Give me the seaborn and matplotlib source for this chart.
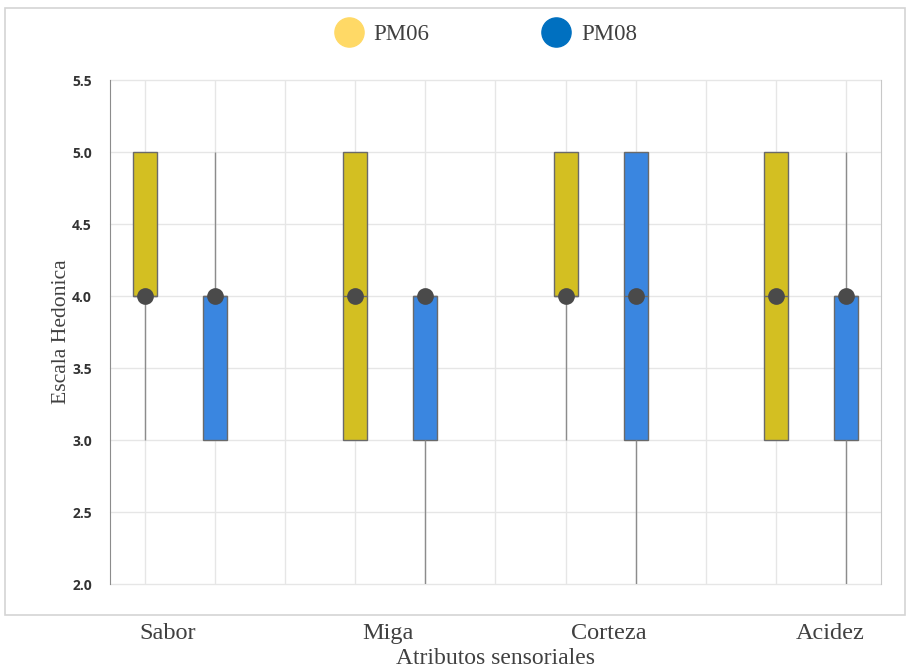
import numpy as np
import pandas as pd
import matplotlib.pyplot as plt
import seaborn as sns
from matplotlib.lines import Line2D
from matplotlib.patches import Rectangle

# 1. Datos: resumen de cinco números por atributo (mín, Q1, mediana, Q3, máx)
categories = ['Sabor', 'Miga', 'Corteza', 'Acidez']
series = ['PM06', 'PM08']

pm06_min = [3, 3, 3, 3]
pm06_q1 = [4, 3, 4, 3]
pm06_med = [4, 4, 4, 4]
pm06_q3 = [5, 5, 5, 5]
pm06_max = [5, 5, 5, 5]

pm08_min = [3, 2, 2, 2]
pm08_q1 = [3, 3, 3, 3]
pm08_med = [4, 4, 4, 4]
pm08_q3 = [4, 4, 5, 4]
pm08_max = [5, 4, 5, 5]

yticks = [2.0, 2.5, 3.0, 3.5, 4.0, 4.5, 5.0, 5.5]

box_colors = ['#D3BF22', '#3A86E0']
legend_colors = ['#FFD966', '#0070C0']

# 2. Tabla larga: cinco valores por caja reproducen exactamente los cuartiles
rows = []
stats = {
    'PM06': [pm06_min, pm06_q1, pm06_med, pm06_q3, pm06_max],
    'PM08': [pm08_min, pm08_q1, pm08_med, pm08_q3, pm08_max],
}
for name, arrs in stats.items():
    for i, cat in enumerate(categories):
        for a in arrs:
            rows.append({'Atributo': cat, 'Serie': name, 'Valor': a[i]})
df = pd.DataFrame(rows)

# 3. Gráfico
sns.set_style('white')
plt.rcParams['font.family'] = ['Liberation Serif', 'DejaVu Serif']

fig = plt.figure(figsize=(9.11, 6.71), dpi=100)
ax = fig.add_axes([110 / 911, 87 / 671, 771 / 911, 504 / 671])

sns.boxplot(data=df, x='Atributo', y='Valor', hue='Serie', order=categories,
            hue_order=series, palette=box_colors, whis=(0, 100), width=2 / 3,
            gap=0.66, dodge=True, linewidth=1, linecolor='#6a6a6a', fliersize=0,
            legend=False, ax=ax, saturation=1,
            whiskerprops=dict(color='#8c8c8c'), capprops=dict(linewidth=0),
            medianprops=dict(color='#6a6a6a'))

sns.pointplot(data=df, x='Atributo', y='Valor', hue='Serie', order=categories,
              hue_order=series, estimator='median', errorbar=None, dodge=1 / 3,
              linestyle='none', markers='o', palette=['#4a4a4a', '#4a4a4a'],
              markersize=10, legend=False, ax=ax, zorder=5)

ax.set_xlim(-1 / 3, 3 + 1 / 3)
ax.set_ylim(2.0, 5.5)

# rejilla vertical en cada caja y en los límites de categoría
minor_x = sorted([i + d for i in range(4) for d in (-1 / 6, 1 / 6)] + [0.5, 1.5, 2.5])
ax.set_xticks(minor_x, minor=True)
ax.set_xticks(np.linspace(-0.06, 3.09, 4), labels=categories)
ax.xaxis.grid(True, which='minor', color='#e6e6e6', lw=1)
ax.xaxis.grid(False, which='major')
ax.tick_params(axis='x', which='both', length=0, pad=28, labelsize=17.5, labelcolor='#404040')

ax.set_yticks(yticks, labels=[f'{v:.1f}' for v in yticks],
              fontfamily='Open Sans', fontweight='bold', fontsize=10)
ax.yaxis.grid(True, color='#e6e6e6', lw=1)
for gl in ax.get_ygridlines():
    gl.set_clip_on(False)
ax.tick_params(axis='y', length=5, width=1, color='#8c8c8c', labelcolor='#333333', pad=8)
ax.set_axisbelow(True)

for side in ['top', 'bottom']:
    ax.spines[side].set_visible(False)
ax.spines['left'].set_color('#8c8c8c')
ax.spines['right'].set_color('#c8c8c8')

ax.set_ylabel('Escala Hedonica', fontsize=15.6, color='#404040', labelpad=1)
ax.set_xlabel('Atributos sensoriales', fontsize=17, color='#404040', labelpad=3)

# marco exterior
fig.patches.append(Rectangle((5 / 911, 56 / 671), 900 / 911, 607 / 671,
                             transform=fig.transFigure, fill=False,
                             edgecolor='#d4d4d4', lw=1.2))

handles = [Line2D([], [], marker='o', linestyle='none', markersize=21,
                  markerfacecolor=c, markeredgecolor=c) for c in legend_colors]
fig.legend(handles, series, loc='center', bbox_to_anchor=(487 / 911, 1 - 34 / 671),
           ncol=2, frameon=False, fontsize=16.5, handlelength=1.0, handletextpad=0.6,
           columnspacing=5.0, labelcolor='#404040')

fig.savefig('out.png', dpi=100)
